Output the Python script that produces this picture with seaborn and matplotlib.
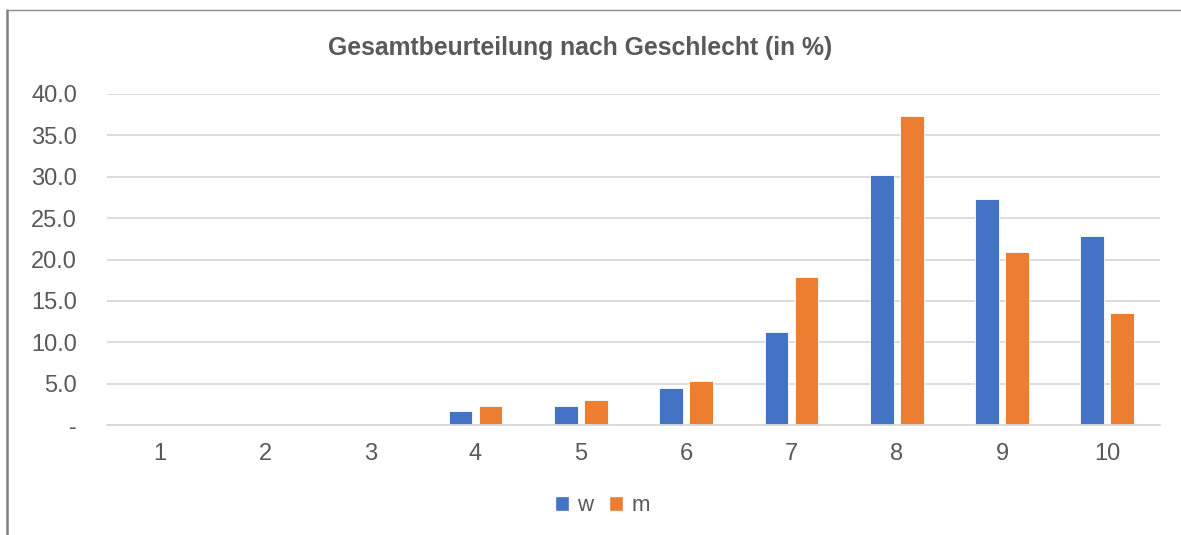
import pandas as pd
import matplotlib.pyplot as plt
import matplotlib.ticker as mticker
from matplotlib.patches import Patch
from matplotlib.lines import Line2D
import seaborn as sns

# Daten
noten = ["1", "2", "3", "4", "5", "6", "7", "8", "9", "10"]
w_werte = [0.0, 0.0, 0.0, 1.7, 2.3, 4.5, 11.2, 30.2, 27.3, 22.9]
m_werte = [0.0, 0.0, 0.0, 2.3, 3.0, 5.3, 17.9, 37.3, 20.9, 13.5]
gruppen = ["w", "m"]
farben = {"w": "#4472C4", "m": "#ED7D31"}

data = pd.DataFrame({
    "Note": noten * 2,
    "Anteil": w_werte + m_werte,
    "Geschlecht": ["w"] * len(noten) + ["m"] * len(noten),
})

sns.set_theme(style="white")
plt.rcParams["font.family"] = ["Liberation Sans", "DejaVu Sans"]
grau = "#595959"

fig = plt.figure(figsize=(11.81, 5.35), dpi=100)
ax = fig.add_axes([0.0906, 0.2056, 0.8916, 0.6187])

sns.barplot(
    data=data, x="Note", y="Anteil", hue="Geschlecht",
    hue_order=gruppen, palette=farben, order=noten,
    width=0.57, gap=0.21, ax=ax, legend=False, saturation=1,
    edgecolor="white", linewidth=0.6,
)

ax.set_xlim(-0.5, len(noten) - 0.5)
ax.set_ylim(0, 40)
ax.yaxis.set_major_locator(mticker.MultipleLocator(5))
ax.yaxis.set_major_formatter(
    mticker.FuncFormatter(lambda v, p: "-" if abs(v) < 1e-9 else f"{v:.1f}")
)
ax.grid(axis="y", color="#D9D9D9", linewidth=1.3)
ax.set_axisbelow(True)
for s in ["top", "right", "left"]:
    ax.spines[s].set_visible(False)
ax.spines["bottom"].set_color("#D9D9D9")
ax.spines["bottom"].set_linewidth(1.3)
ax.tick_params(axis="y", length=0, pad=21.5, labelsize=17, labelcolor=grau)
ax.tick_params(axis="x", length=0, pad=13, labelsize=17, labelcolor=grau)
ax.set_xlabel("")
ax.set_ylabel("")

fig.text(0.4915, 0.91, "Gesamtbeurteilung nach Geschlecht (in %)",
         ha="center", va="center", fontsize=17.8, fontweight="bold", color=grau)

handles = [Patch(facecolor=farben[g], label=g) for g in gruppen]
fig.legend(handles=handles, loc="center", bbox_to_anchor=(0.51, 0.055),
           ncol=2, frameon=False, fontsize=16, labelcolor=grau,
           handlelength=0.65, handleheight=0.65, handletextpad=0.35,
           columnspacing=0.7)

# Rahmen (nur links und oben sichtbar)
fig.add_artist(Line2D([7 / 1181, 7 / 1181], [0, 1 - 10 / 535],
                      transform=fig.transFigure, color="#808080", linewidth=1.8))
fig.add_artist(Line2D([7 / 1181, 1], [1 - 10 / 535, 1 - 10 / 535],
                      transform=fig.transFigure, color="#8C8C8C", linewidth=1.0))

plt.savefig("out.png", dpi=100)
